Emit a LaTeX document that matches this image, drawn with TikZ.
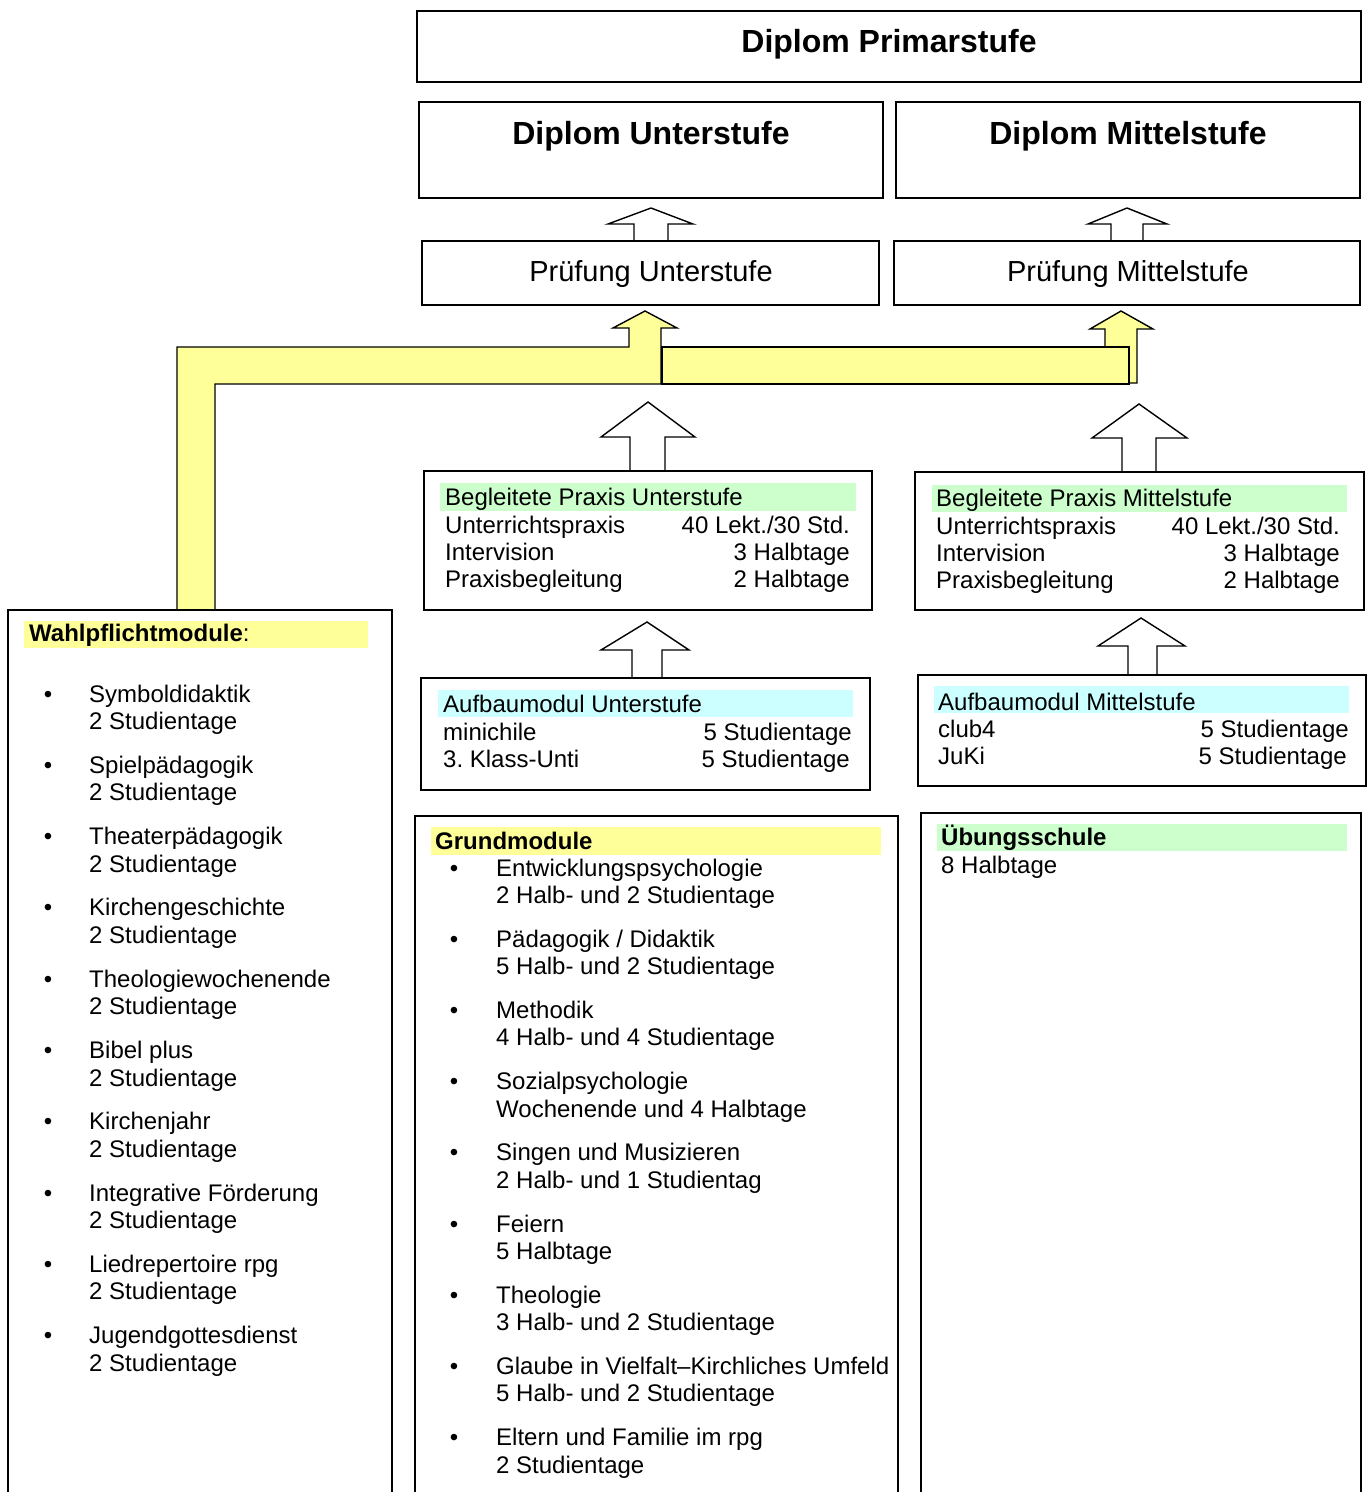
\documentclass[tikz,border=0pt]{standalone}
\usepackage{fontspec}
\setmainfont{Liberation Sans}
\frenchspacing
\definecolor{band}{HTML}{FFFF99}
\definecolor{hgreen}{HTML}{CCFFCC}
\definecolor{hcyan}{HTML}{CCFFFF}
\tikzset{
 box/.style={draw=black, line width=1.4pt, inner sep=0pt, outer sep=0pt},
 hdrband/.style={inner sep=0pt, outer sep=0pt, draw=none},
 txt/.style={font=\fontsize{24}{27.5}\selectfont, inner sep=0pt, anchor=base west, align=left},
 txtr/.style={font=\fontsize{24}{27.5}\selectfont, inner sep=0pt, anchor=base east, align=right},
 hdr/.style={font=\fontsize{24}{27.5}\selectfont\bfseries, inner sep=0pt, anchor=base west},
 bul/.style={font=\fontsize{24}{27.5}\selectfont, inner sep=0pt, anchor=base},
 titletxt/.style={font=\fontsize{32}{36}\selectfont\bfseries, inner sep=0pt, anchor=base},
 subtxt/.style={font=\fontsize{29}{33}\selectfont, inner sep=0pt, anchor=base},
 blk/.style={draw=black, line width=1.4pt, line join=miter},
 yel/.style={fill=band, draw=black, line width=1.4pt, line join=miter},
}
\begin{document}
\begin{tikzpicture}[x=1pt,y=-1pt]
\useasboundingbox (0,0) rectangle (1370,1492);

% yellow band (Wahlpflicht -> Pruefung)
\draw[yel] (1105,383) -- (1105,329) -- (1090,329) -- (1121,311) -- (1153,329) -- (1137,329) -- (1137,383) -- cycle;
\draw[yel] (177,610) -- (177,347) -- (629,347) -- (629,328) -- (613,328) -- (645,311) -- (677,328) -- (661,328) -- (661,384) -- (215,384) -- (215,610) -- cycle;
\draw[yel] (662,347) rectangle (1129,384);

% header bands
\node[hdrband, fill=hgreen, minimum width=416pt, minimum height=28pt] (buh) at (648,497) {};
\node[hdrband, fill=hgreen, minimum width=415pt, minimum height=27pt] (bmh) at (1139.5,498.5) {};
\node[hdrband, fill=hcyan, minimum width=415pt, minimum height=27pt] (auh) at (645.5,703.5) {};
\node[hdrband, fill=hcyan, minimum width=415pt, minimum height=27pt] (amh) at (1141.5,699.5) {};
\node[hdrband, fill=band, minimum width=450pt, minimum height=28pt] (gmh) at (656,841) {};
\node[hdrband, fill=hgreen, minimum width=410pt, minimum height=27pt] (ubh) at (1142,837.5) {};
\node[hdrband, fill=band, minimum width=344pt, minimum height=27pt] (wph) at (196,634.5) {};

% boxes
\node[box, minimum width=944pt, minimum height=71pt] (dp) at (889,46.5) {};
\node[box, minimum width=464pt, minimum height=96pt] (du) at (651,150) {};
\node[box, minimum width=464pt, minimum height=96pt] (dm) at (1128,150) {};
\node[box, minimum width=457pt, minimum height=64pt] (pu) at (650.5,273) {};
\node[box, minimum width=466pt, minimum height=64pt] (pm) at (1127,273) {};
\node[box, minimum width=448pt, minimum height=139pt] (bu) at (648,540.5) {};
\node[box, minimum width=449pt, minimum height=138pt] (bm) at (1139.5,541) {};
\node[box, minimum width=449pt, minimum height=112pt] (au) at (645.5,734) {};
\node[box, minimum width=448pt, minimum height=111pt] (am) at (1142,730.5) {};
\node[box, minimum width=483pt, minimum height=704pt] (gm) at (656.5,1168) {};
\node[box, minimum width=440pt, minimum height=707pt] (ub) at (1141,1166.5) {};
\node[box, minimum width=384pt, minimum height=910pt] (wp) at (200,1065) {};

% block arrows (outline)
\draw[blk] (634,241) -- (634,224) -- (608,224) -- (651,208) -- (693,224) -- (668,224) -- (668,241);
\draw[blk] (1111,241) -- (1111,224) -- (1088,224) -- (1127,208) -- (1167,224) -- (1143,224) -- (1143,241);
\draw[blk] (630,471) -- (630,437) -- (601,437) -- (648,402) -- (695,437) -- (665,437) -- (665,471);
\draw[blk] (1122,472) -- (1122,438) -- (1092,438) -- (1139,404) -- (1187,438) -- (1156,438) -- (1156,472);
\draw[blk] (632,678) -- (632,650) -- (601,650) -- (647,622) -- (689,650) -- (662,650) -- (662,678);
\draw[blk] (1128,675) -- (1128,646) -- (1098,646) -- (1141,618) -- (1185,646) -- (1157,646) -- (1157,675);

% titles
\node[titletxt] (tdp) at (889,52) {Diplom Primarstufe};
\node[titletxt] (tdu) at (651,144) {Diplom Unterstufe};
\node[titletxt] (tdm) at (1128,144) {Diplom Mittelstufe};
\node[subtxt] (tpu) at (651,281) {Prüfung Unterstufe};
\node[subtxt] (tpm) at (1128,281) {Prüfung Mittelstufe};

% Begleitete Praxis Unterstufe
\node[txt] (bu0) at (445,505) {Begleitete Praxis Unterstufe};
\node[txt] (bu1) at (445,533) {Unterrichtspraxis};
\node[txt] (bu2) at (445,560) {Intervision};
\node[txt] (bu3) at (445,587) {Praxisbegleitung};
\node[txtr] (bu1r) at (850,533) {40 Lekt./30 Std.};
\node[txtr] (bu2r) at (850,560) {3 Halbtage};
\node[txtr] (bu3r) at (850,587) {2 Halbtage};

% Begleitete Praxis Mittelstufe
\node[txt] (bm0) at (936,506) {Begleitete Praxis Mittelstufe};
\node[txt] (bm1) at (936,534) {Unterrichtspraxis};
\node[txt] (bm2) at (936,561) {Intervision};
\node[txt] (bm3) at (936,588) {Praxisbegleitung};
\node[txtr] (bm1r) at (1340,534) {40 Lekt./30 Std.};
\node[txtr] (bm2r) at (1340,561) {3 Halbtage};
\node[txtr] (bm3r) at (1340,588) {2 Halbtage};

% Aufbaumodul Unterstufe
\node[txt] (au0) at (443,712) {Aufbaumodul Unterstufe};
\node[txt] (au1) at (443,740) {minichile};
\node[txt] (au2) at (443,767) {3. Klass-Unti};
\node[txtr] (au1r) at (852,740) {5 Studientage};
\node[txtr] (au2r) at (850,767) {5 Studientage};

% Aufbaumodul Mittelstufe
\node[txt] (am0) at (938,710) {Aufbaumodul Mittelstufe};
\node[txt] (am1) at (938,737) {club4};
\node[txt] (am2) at (938,764) {JuKi};
\node[txtr] (am1r) at (1349,737) {5 Studientage};
\node[txtr] (am2r) at (1347,764) {5 Studientage};

% Uebungsschule
\node[hdr] (ub0) at (941,845) {Übungsschule};
\node[txt] (ub1) at (941,873) {8 Halbtage};

% Grundmodule (base anchor of a two-line node = second line)
\node[hdr] (gm0) at (435,849) {Grundmodule};
\foreach \a/\b [count=\i] in {
 {Entwicklungspsychologie}/{2 Halb- und 2 Studientage},
 {Pädagogik / Didaktik}/{5 Halb- und 2 Studientage},
 {Methodik}/{4 Halb- und 4 Studientage},
 {Sozialpsychologie}/{Wochenende und 4 Halbtage},
 {Singen und Musizieren}/{2 Halb- und 1 Studientag},
 {Feiern}/{5 Halbtage},
 {Theologie}/{3 Halb- und 2 Studientage},
 {Glaube in Vielfalt–Kirchliches Umfeld}/{5 Halb- und 2 Studientage},
 {Eltern und Familie im rpg}/{2 Studientage}}{
 \node[bul] (gmb\i) at (454,{876+(\i-1)*71.2}) {•};
 \node[txt] (gmt\i) at (496,{903.5+(\i-1)*71.2}) {\a\\\b};
}

% Wahlpflichtmodule
\node[hdr] (wp0) at (29,641) {Wahlpflichtmodule\mdseries:};
\foreach \a [count=\i] in {Symboldidaktik, Spielpädagogik, Theaterpädagogik, Kirchengeschichte, Theologiewochenende, Bibel plus, Kirchenjahr, Integrative Förderung, Liedrepertoire rpg, Jugendgottesdienst}{
 \node[bul] (wpb\i) at (48,{702+(\i-1)*71.3}) {•};
 \node[txt] (wpt\i) at (89,{729.5+(\i-1)*71.3}) {\a\\2 Studientage};
}
\end{tikzpicture}
\end{document}
